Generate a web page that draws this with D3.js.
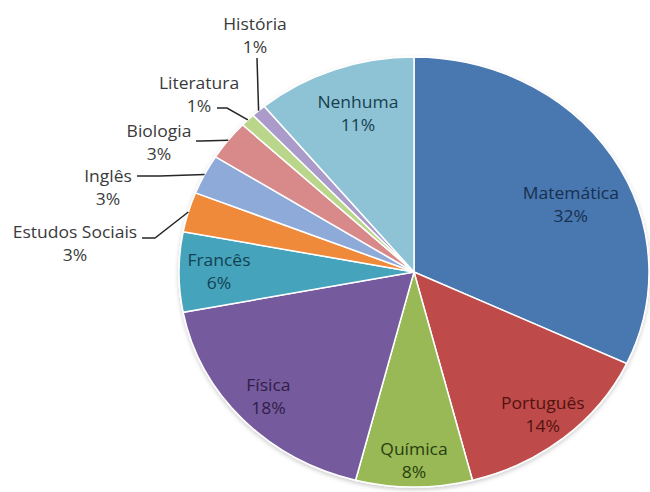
<!DOCTYPE html>
<html>
<head>
<meta charset="utf-8">
<script src="https://cdn.jsdelivr.net/npm/d3@7"></script>
<style>
  html, body { margin: 0; padding: 0; background: #fff; }
  svg { display: block; }
  text { font-family: "Open Sans", Lato, sans-serif; font-size: 16px; }
</style>
</head>
<body>
<svg id="chart" width="650" height="492"></svg>
<script>
// ---- data ----
const categories = ["Matemática", "Português", "Química", "Física", "Francês",
  "Estudos Sociais", "Inglês", "Biologia", "Literatura", "História", "Nenhuma"];
const values = [32, 14, 8, 18, 6, 3, 3, 3, 1, 1, 11];
const percentLabels = ["32%", "14%", "8%", "18%", "6%", "3%", "3%", "3%", "1%", "1%", "11%"];

// ---- styles ----
const sliceColors = ["#4a77b0", "#be4b48", "#98b954", "#765a9e", "#44a3bc",
  "#f08a3a", "#8eaad8", "#d8898a", "#b9d68a", "#aa9bca", "#8ec3d6"];
const textColors = ["#17304f", "#521210", "#2a3d10", "#2f2047", "#134252",
  "#3a3a3a", "#3a3a3a", "#3a3a3a", "#3a3a3a", "#3a3a3a", "#17404f"];

// ---- layout ----
const W = 650, H = 492;
const cx = 414, cy = 272, rx = 235, ry = 215;
const textStretch = rx / ry;  // the whole chart is stretched horizontally
// inside labels: radial factor + pixel nudge
const insideLayout = {
  "Matemática": {f: 0.74, dx: 10, dy: 18},
  "Português": {f: 0.86, dx: 0, dy: 0},
  "Química": {f: 0.88, dx: 0, dy: 0},
  "Física": {f: 0.85, dx: 0, dy: 0},
  "Francês": {f: 0.83, dx: 0, dy: 0},
  "Nenhuma": {f: 0.78, dx: 6, dy: 0}
};
// outside labels: label block centre and leader line elbow
const outsideLayout = {
  "Estudos Sociais": {x: 75, y: 244, lx: 142, ly: 238, ex: 155, ey: 238},
  "Inglês": {x: 108, y: 188, lx: 137, ly: 176, ex: 160, ey: 176},
  "Biologia": {x: 159, y: 143, lx: 196, ly: 141, ex: 201, ey: 141},
  "Literatura": {x: 199, y: 95, lx: 217, ly: 108, ex: 227, ey: 108},
  "História": {x: 255, y: 36, lx: 257, ly: 58, ex: 257, ey: 58}
};
const lineGap = 23;

const svg = d3.select("#chart");
const data = categories.map((c, i) => ({cat: c, value: values[i], pct: percentLabels[i], i}));

const pie = d3.pie().value(d => d.value).sort(null).startAngle(0).endAngle(2 * Math.PI);
const arcs = pie(data);
const arc = d3.arc().innerRadius(0).outerRadius(ry);

const defs = svg.append("defs");
const filt = defs.append("filter").attr("id", "shadow")
  .attr("x", "-10%").attr("y", "-10%").attr("width", "120%").attr("height", "120%");
filt.append("feDropShadow").attr("dx", 0).attr("dy", 2).attr("stdDeviation", 2)
  .attr("flood-color", "#000").attr("flood-opacity", 0.2);

const g = svg.append("g")
  .attr("transform", `translate(${cx},${cy}) scale(${rx / ry},1)`);

g.append("g").attr("filter", "url(#shadow)")
  .selectAll("path").data(arcs).join("path")
  .attr("d", arc)
  .attr("fill", d => sliceColors[d.data.i])
  .attr("stroke", "#ffffff")
  .attr("stroke-width", 1.5)
  .attr("vector-effect", "non-scaling-stroke");

// point on ellipse at angle (clockwise from 12 o'clock)
function ellPoint(a, f) {
  return [cx + rx * f * Math.sin(a), cy - ry * f * Math.cos(a)];
}

const labels = svg.append("g");

arcs.forEach(d => {
  const mid = (d.startAngle + d.endAngle) / 2;
  const cat = d.data.cat;
  const col = textColors[d.data.i];
  let x, y;
  if (insideLayout[cat]) {
    const L = insideLayout[cat];
    [x, y] = ellPoint(mid, L.f);
    x += L.dx; y += L.dy;
  } else {
    const L = outsideLayout[cat];
    x = L.x; y = L.y;
    const edge = ellPoint(mid, 1.0);
    labels.append("polyline")
      .attr("points", [[L.lx, L.ly], [L.ex, L.ey], edge].map(p => p.join(",")).join(" "))
      .attr("fill", "none").attr("stroke", "#262626").attr("stroke-width", 1.5);
  }
  const t = labels.append("g")
    .attr("transform", `translate(${x},${y}) scale(${textStretch},1)`)
    .append("text")
    .attr("text-anchor", "middle")
    .attr("fill", col);
  t.append("tspan").attr("x", 0).attr("y", -lineGap / 2).attr("dy", "0.35em").text(cat);
  t.append("tspan").attr("x", 0).attr("y", lineGap / 2).attr("dy", "0.35em").text(d.data.pct);
});
</script>
</body>
</html>
